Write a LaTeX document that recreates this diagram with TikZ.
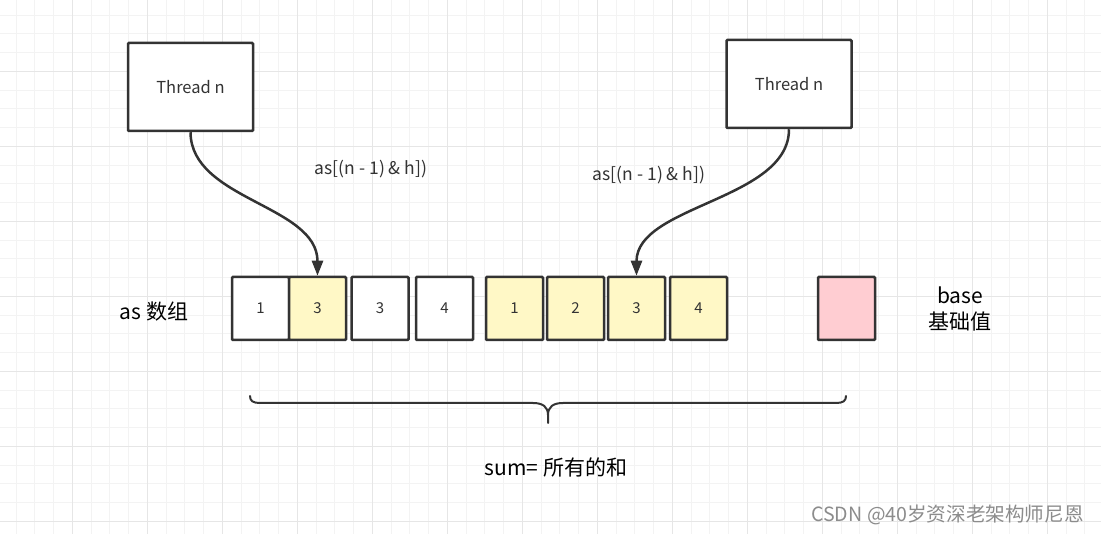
\documentclass[tikz,border=0pt]{standalone}
\usepackage{fontspec}
\setmainfont{Noto Sans CJK SC}
\usetikzlibrary{arrows.meta}
\definecolor{minorg}{HTML}{F3F3F3}
\definecolor{majorg}{HTML}{E6E6E6}
\definecolor{edge}{HTML}{333333}
\definecolor{yel}{HTML}{FFF8C6}
\definecolor{pnk}{HTML}{FFCDD2}
\definecolor{wm}{HTML}{8C8C8C}
\tikzset{
  minorgrid/.style={draw=minorg, line width=1pt},
  majorgrid/.style={draw=majorg, line width=1pt},
  thread/.style={draw=edge, line width=2.5pt, fill=white, minimum width=125pt, minimum height=88pt, inner sep=0pt, rounded corners=1pt, text=edge, font=\fontsize{16.5}{18}\selectfont},
  cell/.style={draw=edge, line width=2.5pt, fill=white, minimum width=57pt, minimum height=63pt, inner sep=0pt, rounded corners=1pt, text=edge, font=\fontsize{15}{18}\selectfont},
  ycell/.style={cell, fill=yel},
  pcell/.style={cell, fill=pnk},
  lbl/.style={text=edge, inner sep=0pt, font=\fontsize{17.5}{20}\selectfont},
  biglbl/.style={text=black, inner sep=0pt, align=center, font=\fontsize{21}{26}\selectfont},
  conn/.style={draw=edge, line width=2.5pt, -{Triangle[length=15pt,width=11pt]}},
}
\begin{document}
\begin{tikzpicture}[x=1pt,y=-1pt]
\useasboundingbox (0,0) rectangle (1101,534);
\fill[white] (0,0) rectangle (1101,534);
% grid
\foreach \i in {0,...,58} {\draw[minorgrid] ({16.05+18.75*\i},0) -- ++(0,534);}
\foreach \i in {0,...,28} {\draw[minorgrid] (0,{15.05+18.75*\i}) -- ++(1101,0);}
\foreach \i in {0,...,14} {\draw[majorgrid] ({72.3+75*\i},0) -- ++(0,534);}
\foreach \i in {0,...,7} {\draw[majorgrid] (0,{71.3+75*\i}) -- ++(1101,0);}
% threads
\node[thread] (t1) at (190.5,87) {Thread n};
\node[thread] (t2) at (789,84) {Thread n};
% cells
\node[cell]  (c1) at (260.5,308.5) {1};
\node[ycell] (c2) at (317.5,308.5) {3};
\node[cell]  (c3) at (380,308.5) {3};
\node[cell]  (c4) at (444.5,308.5) {4};
\node[ycell] (c5) at (514.5,308.5) {1};
\node[ycell] (c6) at (575.5,308.5) {2};
\node[ycell] (c7) at (636.5,308.5) {3};
\node[ycell] (c8) at (698.5,308.5) {4};
\node[pcell] (pb) at (846.5,308.5) {};
% labels
\node[biglbl] (asl) at (154,312) {as 数组};
\node[biglbl] (base) at (960,309) {base\\基础值};
\node[lbl] (l1) at (371,169) {as[(n - 1) \& h])};
\node[lbl] (l2) at (649,175) {as[(n - 1) \& h])};
% connectors
\draw[conn] (t1.south) .. controls (191,200) and (317.5,205) .. (c2.north);
\draw[conn] (t2.south) .. controls (789,200) and (636.5,205) .. (c7.north);
% brace
\coordinate (bl) at (250,396);
\coordinate (br) at (846,396);
\coordinate (bt) at (548,423);
\draw[draw=edge, line width=2pt, line cap=round, line join=round]
  (bl) .. controls (250,401) and (253,403) .. (260,403) -- (533,403)
  .. controls (543,403) and (548,407) .. (548,415) -- (bt)
  (548,415) .. controls (548,407) and (553,403) .. (563,403) -- (836,403)
  .. controls (843,403) and (846,401) .. (br);
\node[biglbl] (sum) at (556,467) {sum=\hspace{5pt}所有的和};
% watermark
\node[text=wm, inner sep=0pt, font=\fontsize{19.6}{22}\selectfont] (wmk) at (947.5,515) {CSDN @40岁资深老架构师尼恩};
\end{tikzpicture}
\end{document}
